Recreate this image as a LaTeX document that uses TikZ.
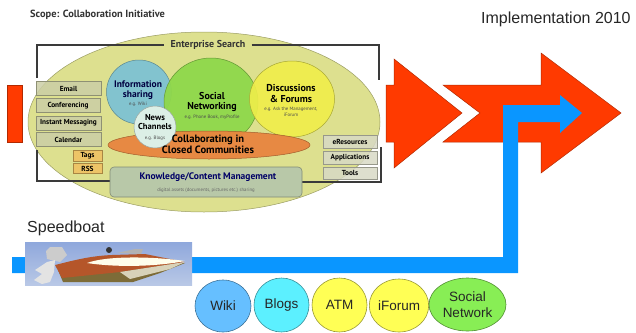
\documentclass[tikz,border=0pt]{standalone}
\usepackage{fontspec}
\setmainfont{Liberation Sans}
\newfontfamily\din{PT Sans}
\usetikzlibrary{shapes.geometric}
\definecolor{redarrow}{HTML}{FF3A00}
\definecolor{bluearrow}{HTML}{0A96FF}
\definecolor{outerell}{HTML}{DDE08F}
\definecolor{framec}{HTML}{3A3A3A}
\definecolor{infoc}{HTML}{82C3CF}
\definecolor{socc}{HTML}{8FD84B}
\definecolor{discc}{HTML}{F0EE4A}
\definecolor{collc}{HTML}{E8853F}
\definecolor{newsc}{HTML}{DCEFE6}
\definecolor{kmc}{HTML}{B8C8A8}
\definecolor{boxc}{HTML}{CBCEA6}
\definecolor{rboxc}{HTML}{D8D9C6}
\definecolor{orangec}{HTML}{F0C060}
\definecolor{skytop}{HTML}{8FA8DC}
\definecolor{skybot}{HTML}{B9C8E6}
\definecolor{wikic}{HTML}{66BFFF}
\definecolor{blogc}{HTML}{5CF0FF}
\definecolor{yelc}{HTML}{FFFF55}
\definecolor{snc}{HTML}{88EE55}
\definecolor{hullc}{HTML}{7D6C38}
\definecolor{deckc}{HTML}{B5562A}
\definecolor{creamc}{HTML}{D8D2B8}
\tikzset{
 redshape/.style={fill=redarrow,draw=redarrow!70!black,line width=.5pt},
 bubble/.style={ellipse,draw=#1!70!black,line width=.5pt,fill=#1,inner sep=0pt},
 sidebox/.style={draw=#1!70!black,line width=.7pt,fill=#1,fill opacity=.85,text opacity=1,minimum height=14pt,inner sep=0pt,font=\din\bfseries\fontsize{7.3}{8}\selectfont},
 frameline/.style={draw=framec,line width=1.3pt},
 small/.style={font=\din\fontsize{4.8}{5.5}\selectfont,text=#1,inner sep=0pt,align=center},
 head/.style={font=\din\bfseries\fontsize{#1}{#1}\selectfont\setlength\baselineskip{1.08em},align=center,inner sep=0pt},
 foot/.style={ellipse,draw=#1!60!black,line width=.6pt,fill=#1,inner sep=0pt,align=center,font=\fontsize{13.5}{16}\selectfont,text=black!85},
 plain/.style={font=\fontsize{16}{18}\selectfont,anchor=west,inner sep=0pt,text=black!85},
}
\begin{document}
\begin{tikzpicture}[x=1pt,y=-1pt]
\useasboundingbox (0,0) rectangle (636,332);
% red arrows
\path[redshape] (7,85) rectangle (22,142);
\path[redshape] (386,85) -- (394,85) -- (394,59) -- (462,113) -- (394,168) -- (394,142) -- (386,142) -- cycle;
\path[redshape] (443,85) -- (541,85) -- (541,53) -- (621,113) -- (541,173) -- (541,142) -- (443,142) -- (480,113) -- cycle;
% outer ellipse
\node[bubble=outerell,minimum width=352pt,minimum height=180pt] (outer) at (204,122) {};
% frame
\node[head=10,text=black!80] (search) at (208,45) {Enterprise Search};
\coordinate (fl1) at (37,78); \coordinate (fr1) at (379,80);
\coordinate (fl2) at (37,150); \coordinate (fr2) at (381,147);
\coordinate (fb1) at (110,181); \coordinate (fb2) at (302,182);
\draw[frameline] (fl1) -- (fl1 |- search) -- ([xshift=-6pt]search.west);
\draw[frameline] ([xshift=6pt]search.east) -- (fr1 |- search) -- (fr1);
\draw[frameline] (fl2) -- (fl2 |- fb1) -- (fb1);
\draw[frameline] (fr2) -- (fr2 |- fb2) -- (fb2);
% circles
\node[bubble=infoc,minimum width=65pt,minimum height=64pt] (info) at (139,92) {};
\node[bubble=socc,minimum width=94pt,minimum height=88pt,fill opacity=.95] (social) at (211,102) {};
\node[bubble=discc,minimum width=85pt,minimum height=76pt,fill opacity=.9] (disc) at (292,99) {};
\node[bubble=collc,minimum width=202pt,minimum height=28pt,fill opacity=.95] (coll) at (209,145) {};
\node[bubble=newsc,minimum width=42pt,minimum height=42pt] (news) at (155,127) {};
% bubble text
\node[head=9.5,text=black!75!blue] (infotxt) at (138,90) {Information\\sharing};
\node[small=black!70] at (138,104) {e.g. Wiki};
\node[head=10] (soctxt) at (212,102) {Social\\Networking};
\node[small=black!70] at (212,117) {e.g. Phone Book, myProfile};
\node[head=10] (disctxt) at (291,93.5) {Discussions\\\& Forums};
\node[small=black!70] at (291,112) {e.g. Ask the Management,\\iForum};
\node[head=8.6] (newstxt) at (155,122) {News\\Channels};
\node[small=black!70] at (155,138) {e.g. Blogs};
\node[head=10.6] (colltxt) at (208,144.5) {Collaborating in\\Closed Communities};
% KM
\node[draw=kmc!70!black,line width=.6pt,fill=kmc,rounded corners=4pt,minimum width=192pt,minimum height=30pt,inner sep=0pt] (km) at (206,182) {};
\node[head=9.5,text=black!60!blue] (kmtxt) at (208,177) {Knowledge/Content Management};
\node[small=black!60] at (206,190) {digital assets (documents, pictures etc.) sharing};
% left boxes
\node[sidebox=boxc,minimum width=65pt] (email) at (68.5,88.5) {Email};
\node[sidebox=boxc,minimum width=64pt] (conf) at (68,105.5) {Conferencing};
\node[sidebox=boxc,minimum width=65pt] (im) at (68.5,123) {Instant Messaging};
\node[sidebox=boxc,minimum width=65pt] (cal) at (68.5,139.5) {Calendar};
\node[sidebox=orangec,minimum width=29pt,minimum height=11pt] (tags) at (87.5,155.5) {Tags};
\node[sidebox=orangec,minimum width=29pt,minimum height=9.5pt] (rss) at (87.5,168.5) {RSS};
% right boxes
\node[sidebox=rboxc,minimum width=54pt,minimum height=13pt] (eres) at (350,141.5) {eResources};
\node[sidebox=rboxc,minimum width=54pt,minimum height=13pt] (apps) at (350,157.5) {Applications};
\node[sidebox=rboxc,minimum width=54pt,minimum height=12pt] (tools) at (350,173) {Tools};
% titles
\node[head=10.4,anchor=west,text=black!80] (scope) at (30,15) {Scope: Collaboration Initiative};
\node[plain] (impl) at (481,19) {Implementation 2010};
\node[plain] (speed) at (27,228) {Speedboat};
% blue arrow
\fill[bluearrow] (12,257) -- (503,257) -- (503,105) -- (560,105) -- (560,95) -- (582,113) -- (560,133) -- (560,122) -- (518,122) -- (518,273) -- (12,273) -- cycle;
% boat picture
\shade[top color=skytop,bottom color=skybot] (25,242) rectangle (192,285);
% hull
\fill[hullc] (58,270) -- (63,282) -- (133,282) -- (160,273) -- (185,263) -- (120,268) -- cycle;
\fill[deckc] (55,265) .. controls (75,260) and (90,256) .. (112,255) -- (145,254) -- (185,262) -- (120,272) -- (62,278) -- cycle;
\fill[creamc] (120,272) -- (185,262) -- (170,269) -- (130,279) -- cycle;
\fill[white!92!yellow] (87,263) .. controls (105,256) and (150,256) .. (185,261) .. controls (160,266) and (120,268) .. (87,263) -- cycle;
\fill[gray!60!white] (117,253) -- (135,249) -- (143,249) -- (141,254) -- cycle;
\fill[black!80] (109,250) circle (3);
% motor
\fill[gray!40!white] (46,251) -- (50,247) -- (62,247) -- (67,255) -- (60,262) -- (47,259) -- cycle;
\fill[white!78!gray] (35,270) -- (47,262) -- (55,260) -- (54,272) -- (50,282) -- (42,284) -- (34,280) -- (42,274) -- cycle;
% footer bubbles
\node[foot=wikic,minimum width=56pt,minimum height=52pt] (wiki) at (223,306) {Wiki};
\node[foot=blogc,minimum width=55pt,minimum height=54pt] (blogs) at (281.5,305) {Blogs};
\node[foot=yelc,minimum width=55pt,minimum height=54pt] (atm) at (339.5,305) {ATM};
\node[foot=yelc,minimum width=54pt,minimum height=53pt] (iforum) at (399,305.5) {iForum};
\node[foot=snc,minimum width=77pt,minimum height=53pt] (sn) at (467.5,304.5) {Social\\Network};
\end{tikzpicture}
\end{document}
